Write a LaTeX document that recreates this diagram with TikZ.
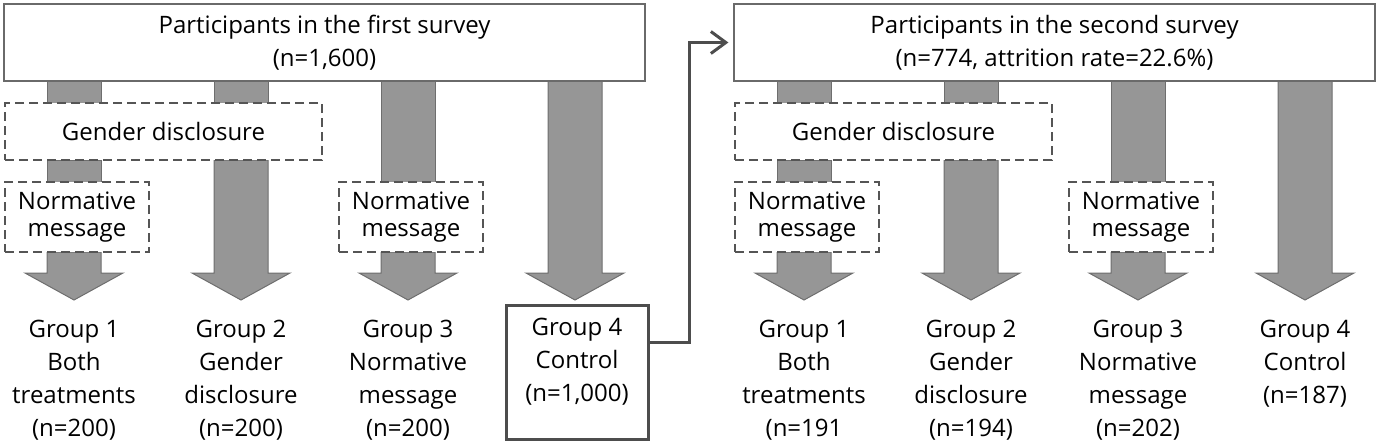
\documentclass[tikz,border=0pt]{standalone}
\usepackage{fontspec}
\setmainfont{Open Sans}
\usetikzlibrary{arrows.meta, positioning, calc}
\definecolor{barfill}{HTML}{969696}
\definecolor{baredge}{HTML}{6E6E6E}
\definecolor{framegray}{HTML}{6A6A6A}
\definecolor{dashgray}{HTML}{555555}
\definecolor{linkgray}{HTML}{4D4D4D}

\tikzset{
  bar/.style={fill=barfill, draw=baredge, line width=0.5pt},
  surveybox/.style={draw=framegray, fill=white, line width=0.6pt, minimum width=320.5pt,
    minimum height=38.5pt, align=center, inner sep=0pt},
  treatbox/.style={draw=dashgray, fill=white, dash pattern=on 4.5pt off 2.5pt, line width=0.7pt,
    align=center, inner sep=0pt, font=\fontsize{12pt}{13.5pt}\selectfont},
  grouptext/.style={align=center, anchor=north, inner sep=0pt},
  ctrlbox/.style={draw=linkgray, line width=1.5pt, minimum width=71pt, minimum height=67pt},
  link/.style={draw=linkgray, line width=1.5pt, shorten >=2.5pt,
    -{Straight Barb[length=7.5pt,width=11pt]}}
}

\begin{document}
\begin{tikzpicture}[x=0.5pt, y=-0.5pt, font=\fontsize{12pt}{16.5pt}\selectfont]
  \useasboundingbox (0,0) rectangle (1380,446);

  % --- block arrows, the same in both surveys ---
  \foreach \dx in {0,730}{
    \foreach \cx/\ya/\yb in {74/81/103, 74/160/182, 241/81/103, 408/81/182}
      \draw[bar] (\dx+\cx-27,\ya) rectangle (\dx+\cx+27,\yb);
    \foreach \cx/\ya in {74/252, 241/160, 408/252, 575/81}
      \draw[bar] (\dx+\cx-27,\ya) -- (\dx+\cx-27,273) -- (\dx+\cx-49,273) -- (\dx+\cx,300)
        -- (\dx+\cx+49,273) -- (\dx+\cx+27,273) -- (\dx+\cx+27,\ya) -- cycle;
  }

  % --- first survey ---
  \node[surveybox] (first) at (324.5,42.5) {Participants in the first survey\\(n=1,600)};
  \node[treatbox, minimum width=158.5pt, minimum height=28.5pt] (gd1) at (163.5,131.5) {Gender disclosure};
  \node[treatbox, minimum width=72pt, minimum height=35pt] (nm1a) at (77,217) {Normative\\message};
  \node[treatbox, minimum width=72pt, minimum height=35pt] (nm1c) at (411,217) {Normative\\message};

  \node[grouptext] (g1a) at (74,320) {Group 1\\Both\\treatments\\(n=200)};
  \node[grouptext] (g2a) at (241,320) {Group 2\\Gender\\disclosure\\(n=200)};
  \node[grouptext] (g3a) at (408,320) {Group 3\\Normative\\message\\(n=200)};
  \node[ctrlbox] (g4a) at (577,372) {};
  \node[grouptext] (g4atext) at (577,318) {Group 4\\Control\\(n=1,000)};

  % --- second survey ---
  \begin{scope}[xshift=365pt]
  \node[surveybox] (second) at (324.5,42.5) {Participants in the second survey\\(n=774, attrition rate=22.6\%)};
  \node[treatbox, minimum width=158.5pt, minimum height=28.5pt] (gd2) at (163.5,131.5) {Gender disclosure};
  \node[treatbox, minimum width=72pt, minimum height=35pt] (nm2a) at (77,217) {Normative\\message};
  \node[treatbox, minimum width=72pt, minimum height=35pt] (nm2c) at (411,217) {Normative\\message};

  \node[grouptext] (g1b) at (74,320) {Group 1\\Both\\treatments\\(n=191};
  \node[grouptext] (g2b) at (241,320) {Group 2\\Gender\\disclosure\\(n=194)};
  \node[grouptext] (g3b) at (408,320) {Group 3\\Normative\\message\\(n=202)};
  \node[grouptext] (g4b) at (575,320) {Group 4\\Control\\(n=187)};
  \end{scope}

  % control group goes on to the second survey
  \coordinate (bend) at (689,42.5);
  \draw[link] ([yshift=15pt]g4a.east) -| (bend) -- (second.west);
\end{tikzpicture}
\end{document}
